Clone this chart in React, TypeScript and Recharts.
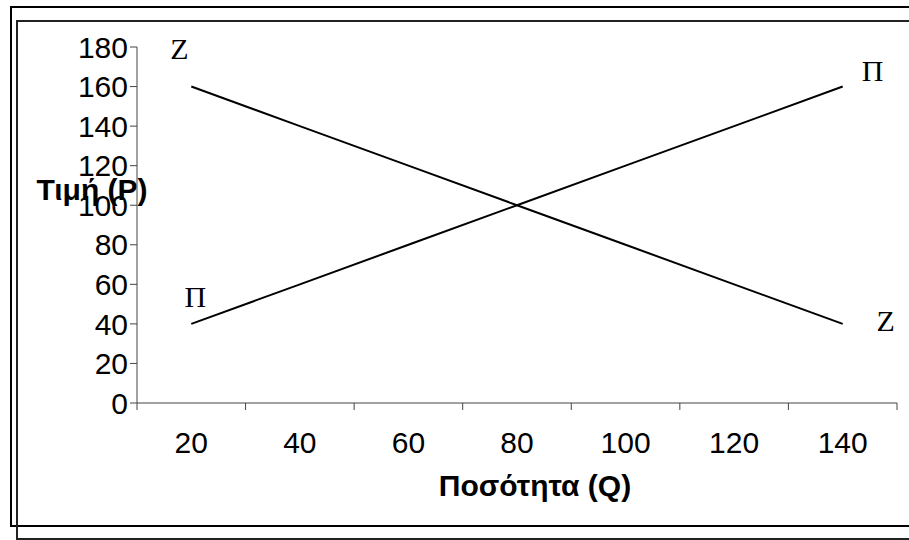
import { LineChart, Line, XAxis, YAxis } from "recharts";

const quantities = [20, 40, 60, 80, 100, 120, 140];
const demand = [160, 140, 120, 100, 80, 60, 40];
const supply = [40, 60, 80, 100, 120, 140, 160];
const priceTicks = [0, 20, 40, 60, 80, 100, 120, 140, 160, 180];

const data = quantities.map((q, i) => ({ q, demand: demand[i], supply: supply[i] }));

const serif = "'Liberation Serif', 'DejaVu Serif', serif";
const sans = "'Liberation Sans', Arial, sans-serif";
const HALF_BAND = 54.3;
const TICK_GAP = 29;

// end-of-line letters: Z for demand, Π for supply
function endLabel(letter: string, first: [number, number], last: [number, number]) {
  return (props: any) => {
    const { x, y, index } = props;
    if (index !== 0 && index !== quantities.length - 1) return null;
    const [dx, dy] = index === 0 ? first : last;
    return (
      <text key={index} x={x + dx} y={y + dy} textAnchor="middle" dominantBaseline="central"
        fontFamily={serif} fontSize={30} fill="#000">
        {letter}
      </text>
    );
  };
}

// Excel-style category tick: label in the middle, tick marks on the band edges
function QuantityTick(props: any) {
  const { x, y, payload, index, visibleTicksCount } = props;
  const top = y - TICK_GAP;
  const isLast = index === visibleTicksCount - 1;
  return (
    <g>
      <line x1={x - HALF_BAND} x2={x - HALF_BAND} y1={top} y2={top + 7} stroke="#444" />
      {isLast && <line x1={x + HALF_BAND} x2={x + HALF_BAND} y1={top} y2={top + 7} stroke="#444" />}
      <text x={x} y={y} dy="0.71em" textAnchor="middle" fontFamily={sans} fontSize={30} fill="#000">
        {payload.value}
      </text>
    </g>
  );
}

export default function App() {
  return (
    <div style={{ position: "absolute", left: 0, top: 0, width: 909, height: 540, overflow: "hidden", background: "#fff" }}>
      <div style={{ position: "absolute", left: 10, top: 6, width: 940, height: 517, border: "2px solid #000" }} />
      <div style={{ position: "absolute", left: 16, top: 20, width: 940, height: 516, border: "2px solid #222" }} />
      <div style={{ position: "absolute", left: 0, top: 0 }}>
        <LineChart width={909} height={540} data={data} margin={{ top: 47, right: 12, bottom: 0, left: 0 }}>
          <XAxis dataKey="q" type="category" height={137} tickLine={false} stroke="#444"
            tickSize={0} tickMargin={TICK_GAP} padding={{ left: HALF_BAND, right: HALF_BAND }} interval={0}
            tick={<QuantityTick />} />
          <YAxis domain={[0, 180]} ticks={priceTicks} width={137} tickSize={7} stroke="#444"
            interval={0} tick={{ fill: "#000", fontSize: 30, fontFamily: sans }} />
          <Line dataKey="demand" stroke="#000" strokeWidth={2} dot={false}
            isAnimationActive={false} label={endLabel("Z", [-12, -38], [43, -3])} />
          <Line dataKey="supply" stroke="#000" strokeWidth={2} dot={false}
            isAnimationActive={false} label={endLabel("Π", [4, -27], [30, -16])} />
          <text x={92} y={189} textAnchor="middle" dominantBaseline="central" fontFamily={sans}
            fontWeight="bold" fontSize={30} fill="#000">Τιμή (P)</text>
          <text x={535} y={485} textAnchor="middle" dominantBaseline="central" fontFamily={sans}
            fontWeight="bold" fontSize={30} fill="#000">Ποσότητα (Q)</text>
        </LineChart>
      </div>
    </div>
  );
}
